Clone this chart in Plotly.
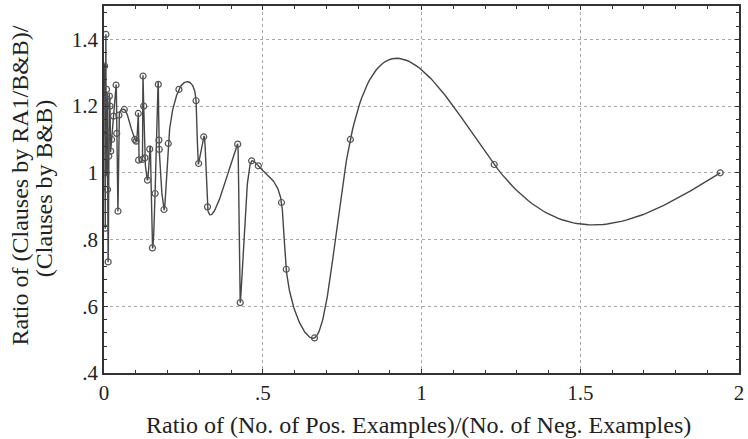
import numpy as np
import plotly.graph_objects as go

# Ratio of positive to negative examples (x) and clause-count ratio RA1/B&B (y)
pos_neg_ratio = [
    0.001, 0.002, 0.003, 0.004, 0.005, 0.006, 0.007, 0.008, 0.009, 0.010,
    0.011, 0.013, 0.015, 0.017, 0.019, 0.021, 0.024, 0.030, 0.038, 0.040,
    0.044, 0.047, 0.064, 0.097, 0.101, 0.108, 0.109, 0.121, 0.123, 0.125,
    0.129, 0.137, 0.144, 0.1525, 0.161, 0.171, 0.173, 0.174, 0.189, 0.2025,
    0.236, 0.290, 0.298, 0.314, 0.326, 0.421, 0.429, 0.465, 0.486, 0.559,
    0.574, 0.663, 0.776, 1.229, 1.941,
]
clause_ratio = [
    1.23, 1.32, 1.05, 0.834, 1.20, 1.415, 1.00, 1.25, 1.12, 1.22,
    0.95, 0.733, 1.05, 1.23, 1.20, 1.065, 1.10, 1.17, 1.263, 1.118,
    0.885, 1.173, 1.19, 1.10, 1.095, 1.178, 1.038, 1.04, 1.29, 1.20,
    1.045, 0.978, 1.071, 0.775, 0.938, 1.265, 1.098, 1.07, 0.89, 1.088,
    1.25, 1.216, 1.028, 1.108, 0.898, 1.086, 0.611, 1.036, 1.021, 0.911,
    0.711, 0.505, 1.10, 1.025, 1.0,
]

x_tick_vals = [0, 0.5, 1, 1.5, 2]
x_tick_text = ["0", ".5", "1", "1.5", "2"]
y_tick_vals = [0.4, 0.6, 0.8, 1.0, 1.2, 1.4]
y_tick_text = [".4", ".6", ".8", "1", "1.2", "1.4"]

x_title = "Ratio of (No. of Pos. Examples)/(No. of Neg. Examples)"
y_title_lines = ["Ratio of (Clauses by RA1/B&B)/", "(Clauses by B&B)"]

W, H = 748, 439
M_L, M_R, M_T, M_B = 104, 4, 5, 66
X_RANGE = [0, 2]
Y_RANGE = [0.4, 1.5]


def natural_cubic(t, v, tt):
    """Natural cubic spline through (t, v), evaluated at tt."""
    n = len(t)
    h = np.diff(t)
    A = np.zeros((n, n))
    rhs = np.zeros(n)
    A[0, 0] = A[-1, -1] = 1.0
    for i in range(1, n - 1):
        A[i, i - 1] = h[i - 1]
        A[i, i] = 2 * (h[i - 1] + h[i])
        A[i, i + 1] = h[i]
        rhs[i] = 6 * ((v[i + 1] - v[i]) / h[i] - (v[i] - v[i - 1]) / h[i - 1])
    m = np.linalg.solve(A, rhs)
    k = np.clip(np.searchsorted(t, tt, side="right") - 1, 0, n - 2)
    hk = h[k]
    a = t[k + 1] - tt
    b = tt - t[k]
    return (m[k] * a ** 3 / (6 * hk) + m[k + 1] * b ** 3 / (6 * hk)
            + (v[k] / hk - m[k] * hk / 6) * a
            + (v[k + 1] / hk - m[k + 1] * hk / 6) * b)


def monotone_cubic(t, v, tt):
    """Shape-preserving (Fritsch-Carlson) cubic through (t, v), at tt."""
    h = np.diff(t)
    d = np.diff(v) / h
    s = np.zeros(len(t))
    for i in range(1, len(t) - 1):
        if d[i - 1] * d[i] > 0:
            w1 = 2 * h[i] + h[i - 1]
            w2 = h[i] + 2 * h[i - 1]
            s[i] = (w1 + w2) / (w1 / d[i - 1] + w2 / d[i])
    s[0], s[-1] = d[0], d[-1]
    k = np.clip(np.searchsorted(t, tt, side="right") - 1, 0, len(t) - 2)
    hk = h[k]
    u = (tt - t[k]) / hk
    h00 = 2 * u ** 3 - 3 * u ** 2 + 1
    h10 = u ** 3 - 2 * u ** 2 + u
    h01 = -2 * u ** 3 + 3 * u ** 2
    h11 = u ** 3 - u ** 2
    return h00 * v[k] + h10 * hk * s[k] + h01 * v[k + 1] + h11 * hk * s[k + 1]


# Smooth curve through the measurements: parameter is an x-weighted chord
# length in screen units; x follows a monotone cubic so the curve never loops.
xs = np.asarray(pos_neg_ratio)
ys = np.asarray(clause_ratio)
px = xs * (W - M_L - M_R) / (X_RANGE[1] - X_RANGE[0])
py = ys * (H - M_T - M_B) / (Y_RANGE[1] - Y_RANGE[0])
chord = np.hypot(4.0 * np.diff(px), np.diff(py))
t = np.concatenate([[0.0], np.cumsum(chord)])
tt = np.concatenate([np.linspace(t[i], t[i + 1], 60, endpoint=False)
                     for i in range(len(t) - 1)] + [t[-1:]])
curve_x = monotone_cubic(t, xs, tt)
curve_y = natural_cubic(t, ys, tt)

ink = "#464646"
font = "Liberation Serif, Times New Roman, serif"

fig = go.Figure()
fig.add_trace(go.Scatter(x=curve_x, y=curve_y, mode="lines",
                         line=dict(color=ink, width=1.4), hoverinfo="skip"))
fig.add_trace(go.Scatter(x=pos_neg_ratio, y=clause_ratio, mode="markers",
                         marker=dict(symbol="circle-open", size=6,
                                     color="#555555", line=dict(width=1.2))))

axis_common = dict(
    showline=True, linecolor="#333333", linewidth=1.5, mirror="ticks",
    ticks="inside", ticklen=4, tickcolor="#333333", tickwidth=1,
    showgrid=True, gridcolor="#a8a8a8", griddash="dot", gridwidth=1,
    zeroline=False, tickfont=dict(family=font, size=21, color="#222222"),
)

fig.update_xaxes(range=X_RANGE, tickmode="array", tickvals=x_tick_vals,
                 ticktext=x_tick_text,
                 minor=dict(dtick=0.1, ticks="inside", ticklen=3,
                            tickcolor="#333333", showgrid=False),
                 **axis_common)
fig.update_yaxes(range=Y_RANGE, tickmode="array", tickvals=y_tick_vals,
                 ticktext=y_tick_text,
                 minor=dict(dtick=0.04, ticks="inside", ticklen=3,
                            tickcolor="#333333", showgrid=False),
                 **axis_common)

title_font = dict(family=font, size=24, color="#222222")
annotations = [
    dict(text=x_title, xref="paper", yref="paper", x=0.4945, y=0,
         xanchor="center", yanchor="middle", yshift=-52, showarrow=False,
         font=title_font),
    dict(text=y_title_lines[0], xref="paper", yref="paper", x=0, y=0.511,
         xanchor="center", yanchor="middle", xshift=-84, textangle=-90,
         showarrow=False, font=title_font),
    dict(text=y_title_lines[1], xref="paper", yref="paper", x=0, y=0.501,
         xanchor="center", yanchor="middle", xshift=-60, textangle=-90,
         showarrow=False, font=title_font),
]

fig.update_layout(
    width=W, height=H, margin=dict(l=M_L, r=M_R, t=M_T, b=M_B),
    paper_bgcolor="white", plot_bgcolor="white", showlegend=False,
    annotations=annotations,
)

fig.write_html("out.html")
